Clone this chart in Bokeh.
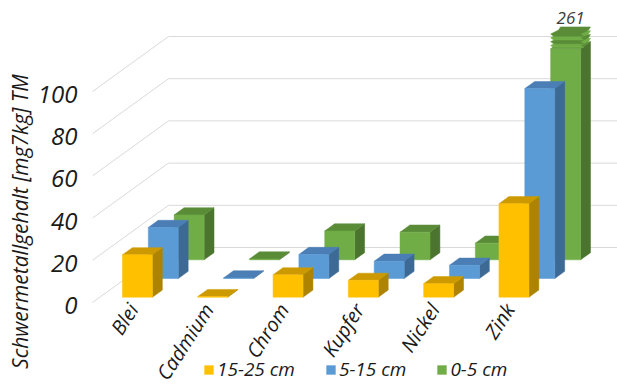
import math

from bokeh.core.properties import value
from bokeh.embed import file_html
from bokeh.models import Legend, LegendItem, Range1d
from bokeh.plotting import figure
from bokeh.resources import INLINE

# ---- data -------------------------------------------------------------
categories = ["Blei", "Cadmium", "Chrom", "Kupfer", "Nickel", "Zink"]
series_names = ["15-25 cm", "5-15 cm", "0-5 cm"]
depth_15_25 = [20.1, 0.3, 10.6, 8.0, 6.4, 44.3]
depth_5_15 = [24.2, 0.3, 11.4, 8.2, 6.3, 90.0]
depth_0_5 = [21.3, 0.4, 13.7, 13.1, 7.9, 261.0]
y_ticks = [0, 20, 40, 60, 80, 100]
y_title = "Schwermetallgehalt [mg7kg] TM"
axis_cap = 100  # taller columns are cut here and marked with a break

series_values = [depth_15_25, depth_5_15, depth_0_5]
face_colors = [
    # front, top, side
    ("#FFC000", "#CC9A00", "#AD8300"),
    ("#5B9BD5", "#4A7EB5", "#3D6995"),
    ("#70AD47", "#5A8C38", "#4B752F"),
]

# ---- geometry of the oblique 3-D view ---------------------------------
W, H = 617, 385
PX_CAT = 75.3   # pixels per category slot
PX_VAL = 2.11   # pixels per value unit on the front plane
ORIGIN_PX = (92, 302)  # front-left corner of the floor

DX = 76 / PX_CAT    # depth shift (front -> back wall), category units
DY = 55 / PX_VAL    # depth shift, value units
Z0, Z_STEP, Z_BAR = 0.096, 0.34, 0.13
HALF_W = 15 / PX_CAT

FONT = value("Open Sans")
TEXT_COLOR = "#1A1A1A"


def proj(x, v, z):
    return x + z * DX, v + z * DY


def poly(pts):
    xs, ys = zip(*[proj(*pt) for pt in pts])
    return list(xs), list(ys)


p = figure(
    width=W, height=H,
    x_range=Range1d(-ORIGIN_PX[0] / PX_CAT, (W - ORIGIN_PX[0]) / PX_CAT),
    y_range=Range1d(-(H - ORIGIN_PX[1]) / PX_VAL, ORIGIN_PX[1] / PX_VAL),
    x_axis_location=None, y_axis_location=None,
    toolbar_location=None, output_backend="svg",
    min_border=0, outline_line_color=None,
    background_fill_color="white", border_fill_color="white",
)
p.xgrid.visible = False
p.ygrid.visible = False

# ---- walls: gridlines on side wall and back wall -----------------------
x_end = p.x_range.end + 0.5
grid_xs, grid_ys = [], []
for t in y_ticks:
    grid_xs.append([0, DX, x_end])
    grid_ys.append([t, t + DY, t + DY])
p.multi_line(grid_xs, grid_ys, line_color="#D9D9D9", line_width=1)

# ---- columns, painted from the back row to the front row ---------------
front_renderers = {}
for s in reversed(range(len(series_values))):
    vals = series_values[s]
    c_front, c_top, c_side = face_colors[s]
    zf = Z0 + s * Z_STEP
    zb = zf + Z_BAR
    fronts, tops, sides = ([], []), ([], []), ([], [])
    for i, v in enumerate(vals):
        h = min(v, axis_cap)
        xl, xr = i + 0.5 - HALF_W, i + 0.5 + HALF_W
        for target, pts in (
            (sides, [(xr, 0, zf), (xr, 0, zb), (xr, h, zb), (xr, h, zf)]),
            (tops, [(xl, h, zf), (xr, h, zf), (xr, h, zb), (xl, h, zb)]),
            (fronts, [(xl, 0, zf), (xr, 0, zf), (xr, h, zf), (xl, h, zf)]),
        ):
            xs, ys = poly(pts)
            target[0].append(xs)
            target[1].append(ys)
    p.patches(sides[0], sides[1], fill_color=c_side, line_color=c_side, line_width=0.5)
    p.patches(tops[0], tops[1], fill_color=c_top, line_color=c_top, line_width=0.5)
    front_renderers[s] = p.patches(fronts[0], fronts[1], fill_color=c_front,
                                   line_color=c_front, line_width=0.5)

    # break marks and value label for columns above the cap
    for i, v in enumerate(vals):
        if v <= axis_cap:
            continue
        xl, xr = i + 0.5 - HALF_W, i + 0.5 + HALF_W
        notch = 3 / PX_CAT
        bx, by = [], []
        colors = []
        for k, lift in enumerate([1.6, 3.4, 5.2, 7.0]):
            b = axis_cap + lift
            zm = (zf + zb) / 2
            xs, ys = poly([
                (xl, b, zf), (xl + notch, b - 1.0, zf), (xr + notch, b - 1.0, zf),
                (xr, b, zf), (xr + notch, b + 0.2, zm), (xr, b, zb),
                (xl, b, zb), (xl + notch, b + 0.2, zm),
            ])
            bx.append(xs)
            by.append(ys)
            colors.append(c_front if k % 2 == 0 else c_top)
        p.patches(bx, by, fill_color=colors, line_color=colors, line_width=0.5)
        lx, ly = proj(i + 0.5, axis_cap + 8, zf + Z_BAR / 2)
        p.text([lx], [ly], text=[f"{v:g}"], text_font=FONT, text_font_style="italic",
               text_font_size="17px", text_color="#404040", text_align="center",
               text_baseline="middle", y_offset=-10)

# ---- value ticks along the front edge of the side wall -----------------
p.text([-15 / PX_CAT] * len(y_ticks), y_ticks, text=[str(t) for t in y_ticks],
       text_font=FONT, text_font_style="italic", text_font_size="24px",
       text_color=TEXT_COLOR, text_align="right", text_baseline="middle", y_offset=3)

# ---- category labels ---------------------------------------------------
p.text([i + 0.5 + 3 / PX_CAT for i in range(len(categories))],
       [-3 / PX_VAL] * len(categories), text=categories,
       angle=math.radians(57), text_font=FONT, text_font_style="italic",
       text_font_size="20px", text_color=TEXT_COLOR,
       text_align="right", text_baseline="middle")

# ---- value-axis title --------------------------------------------------
p.text([(19 - ORIGIN_PX[0]) / PX_CAT], [(ORIGIN_PX[1] - 221) / PX_VAL], text=[y_title],
       angle=math.pi / 2, text_font=FONT, text_font_style="italic",
       text_font_size="21px", text_color=TEXT_COLOR,
       text_align="center", text_baseline="middle")

# ---- legend ------------------------------------------------------------
legend = Legend(
    items=[LegendItem(label=name, renderers=[front_renderers[s]])
           for s, name in enumerate(series_names)],
    orientation="horizontal", location=(203, 3),
    padding=0, margin=0, spacing=30, label_standoff=3,
    glyph_width=11, glyph_height=11, label_height=20,
    label_text_font="Open Sans", label_text_font_style="italic",
    label_text_font_size="19px", label_text_color=TEXT_COLOR,
    border_line_color=None, background_fill_alpha=0,
)
p.add_layout(legend)

open("out.html", "w").write(file_html(p, INLINE))
